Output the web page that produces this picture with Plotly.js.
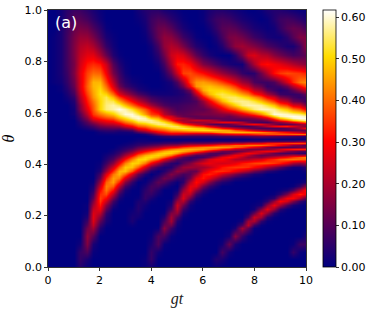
<!DOCTYPE html>
<html><head><meta charset="utf-8">
<script src="https://cdn.plot.ly/plotly-3.0.1.min.js"></script>
<style>html,body{margin:0;padding:0;background:#fff}</style></head>
<body><div id="chart" style="width:374px;height:309px"></div>
<script>
var gt = [0,.25,.5,.75,1,1.25,1.5,1.75,2,2.25,2.5,2.75,3,3.25,3.5,3.75,4,4.25,4.5,4.75,5,5.25,5.5,5.75,6,6.25,6.5,6.75,7,7.25,7.5,7.75,8,8.25,8.5,8.75,9,9.25,9.5,9.75,10];
var theta = [0,.03,.06,.09,.12,.15,.165,.18,.195,.21,.225,.24,.255,.27,.285,.30,.315,.33,.345,.36,.375,.39,.405,.42,.428,.436,.444,.452,.46,.468,.476,.484,.492,.5,.508,.516,.524,.532,.54,.548,.556,.564,.572,.58,.588,.596,.615,.63,.645,.66,.675,.69,.705,.72,.755,.79,.825,.86,.895,.93,.965,1];
var valueTicks = [0,.1,.2,.3,.4,.5,.6];
var valuesPct = [
[0,0,0,0,0,4,1,0,0,0, 0,0,0,0,0,1,2,0,0,0, 0,0,0,0,0,0,1,0,0,0, 0,0,0,0,0,0,0,0,0,0,0],
[0,0,0,0,0,6,3,0,0,0, 0,0,0,0,0,1,6,0,0,0, 0,0,0,0,0,0,4,3,0,0, 0,0,0,0,0,0,0,0,0,0,0],
[0,0,0,0,0,6,9,1,0,0, 0,0,0,0,0,0,6,2,0,0, 0,0,0,0,0,0,0,8,2,0, 0,0,0,0,0,0,0,0,6,1,0],
[0,0,0,0,0,2,15,3,0,0, 0,0,0,0,0,0,3,9,1,0, 0,0,0,0,0,0,0,2,12,3, 0,0,0,0,0,0,0,0,1,7,7],
[0,0,0,0,0,0,17,10,0,0, 0,0,0,0,0,0,1,9,8,1, 0,0,0,0,0,0,0,0,2,16, 6,1,0,0,0,0,0,0,0,0,3],
[0,0,0,0,0,0,13,19,4,0, 0,0,0,0,0,0,0,1,16,7, 1,0,0,0,0,0,0,0,0,3, 19,11,1,0,0,0,0,0,0,0,0],
[0,0,0,0,0,0,10,23,7,1, 0,0,0,1,0,0,0,0,12,13, 2,0,0,0,0,0,0,0,0,1, 9,22,7,1,0,0,0,0,0,0,0],
[0,0,0,0,0,0,7,26,11,3, 0,0,0,3,0,0,0,0,8,19, 4,0,0,0,0,0,0,0,0,0, 2,19,20,6,1,0,0,0,0,0,0],
[0,0,0,0,0,0,4,27,16,4, 0,0,0,3,2,0,0,0,4,19, 9,1,0,0,0,0,0,0,0,0, 0,7,24,19,5,1,0,0,0,0,0],
[0,0,0,0,0,0,2,26,22,6, 0,0,0,2,3,0,0,0,1,15, 17,3,0,0,0,0,0,0,0,0, 0,2,12,26,17,5,1,0,0,0,0],
[0,0,0,0,0,0,1,23,28,11, 1,0,0,1,4,1,0,0,0,8, 22,7,1,0,0,0,0,0,0,0, 0,0,2,15,27,18,5,1,0,0,0],
[0,0,0,0,0,0,1,19,32,16, 4,0,0,0,4,2,0,0,0,4, 24,13,2,0,0,0,0,0,0,0, 0,0,1,3,17,28,19,9,3,1,0],
[0,0,0,0,0,0,0,15,35,24, 8,1,0,0,3,4,1,0,0,2, 18,21,6,1,0,0,0,0,0,0, 0,0,0,1,5,18,30,25,15,6,2],
[0,0,0,0,0,0,0,11,36,30, 14,3,0,0,1,6,3,0,0,0, 12,26,13,3,0,0,0,0,0,0, 0,0,0,0,2,5,19,29,30,21,10],
[0,0,0,0,0,0,0,8,34,37, 22,7,1,0,0,6,6,2,0,0, 6,24,22,8,2,0,0,0,0,0, 0,0,0,0,0,1,5,14,26,33,28],
[0,0,0,0,0,0,0,5,30,41, 31,13,3,0,0,5,8,4,0,0, 2,18,28,17,6,2,0,0,0,0, 0,0,0,0,0,0,1,3,9,21,32],
[0,0,0,0,0,0,0,3,24,42, 39,22,8,2,0,3,8,8,4,1, 0,11,27,27,14,7,3,0,0,0, 0,0,0,0,0,0,0,0,1,6,16],
[0,0,0,0,0,0,0,1,18,39, 45,33,16,6,0,1,5,11,9,4, 1,5,21,31,25,16,8,4,2,0, 0,0,0,0,0,0,0,0,0,1,3],
[0,0,0,0,0,0,0,0,12,33, 45,42,27,14,5,0,2,7,13,11, 6,5,13,27,32,27,19,12,8,4, 2,1,0,0,0,0,0,0,0,0,0],
[0,0,0,0,0,0,0,0,8,26, 41,47,39,25,12,4,0,3,8,15, 12,8,10,18,31,33,30,24,19,14, 9,6,3,2,0,0,0,0,0,0,0],
[0,0,0,0,0,0,0,0,4,18, 34,47,48,38,24,12,4,1,4,10, 17,15,11,12,24,30,34,34,32,28, 23,19,13,9,5,3,1,0,0,0,2],
[0,0,0,0,0,0,0,0,2,12, 25,39,49,48,39,25,13,6,3,4, 11,18,19,18,19,22,27,32,34,35, 35,34,30,26,20,15,10,5,2,2,5],
[0,0,0,0,0,0,0,0,1,7, 16,29,42,50,49,41,29,19,10,5, 4,10,15,21,26,28,26,25,26,28, 32,34,36,37,37,35,32,27,20,17,20],
[0,0,0,0,0,0,0,0,0,4, 9,19,31,42,50,51,45,38,27,17, 9,7,6,10,17,25,29,30,26,21, 20,21,24,26,31,34,38,40,41,40,39],
[0,0,0,0,0,0,0,0,0,3, 7,14,25,36,45,50,50,46,39,29, 18,10,6,6,7,12,21,28,31,28, 22,17,17,16,20,24,28,31,35,39,42],
[0,0,0,0,0,0,0,0,0,2, 5,10,19,28,39,46,49,50,47,41, 31,22,15,9,9,8,10,17,23,29, 28,22,16,12,13,14,15,18,21,20,23],
[0,0,0,0,0,0,0,0,0,1, 3,7,14,21,31,38,43,48,50,49, 44,36,29,22,16,10,9,9,12,18, 25,30,27,22,17,12,9,8,8,6,4],
[0,0,0,0,0,0,0,0,0,0, 2,5,9,15,23,30,35,41,46,49, 49,46,42,38,32,25,19,13,12,11, 14,18,23,27,29,28,23,16,13,10,9],
[0,0,0,0,0,0,0,0,0,0, 1,3,6,10,16,21,25,30,36,41, 44,46,47,46,45,41,37,32,28,21, 18,14,14,14,16,19,25,30,32,33,33],
[0,0,0,0,0,0,0,0,0,0, 0,2,4,6,11,14,17,20,25,29, 31,36,39,41,43,44,45,44,43,39, 36,31,26,22,15,12,10,10,10,12,14],
[0,0,0,0,0,0,0,0,0,0, 0,1,2,4,6,8,10,12,15,17, 18,22,25,26,28,30,33,36,37,40, 40,41,41,40,37,33,28,22,16,14,9],
[0,0,0,0,0,0,0,0,0,0, 0,0,1,2,4,4,5,6,7,8, 8,10,12,12,12,13,15,18,18,21, 21,25,26,27,32,33,34,35,36,36,35],
[0,0,0,0,0,0,0,0,0,0, 0,0,0,1,2,2,2,2,3,3, 3,4,4,4,4,4,5,5,5,6, 6,7,7,7,9,9,9,10,10,13,13],
[0,0,0,0,0,0,0,0,0,0, 0,0,0,0,1,1,0,0,0,0, 0,0,0,0,0,0,0,0,0,0, 0,0,1,1,1,1,1,1,1,1,1],
[0,0,0,0,0,0,0,0,0,0, 0,0,0,0,0,0,1,3,5,6, 6,6,6,6,6,6,7,8,8,9, 9,10,11,12,11,10,9,8,7,6,5],
[0,0,0,0,0,0,0,0,1,1, 1,1,1,1,1,3,7,15,20,24, 24,22,20,19,19,19,21,25,27,29, 30,31,33,35,37,37,38,38,39,40,40],
[0,0,0,0,0,0,0,0,2,3, 3,2,2,3,9,14,20,28,31,35, 35,36,37,37,38,39,43,45,47,47, 47,46,45,43,40,37,33,30,26,22,18],
[0,0,0,0,0,0,1,2,5,6, 6,5,7,9,20,25,32,36,39,44, 45,47,49,50,51,51,49,47,45,39, 35,30,24,20,16,13,11,10,11,12,12],
[0,0,0,0,0,1,3,5,9,10, 11,11,15,20,30,33,39,43,46,51, 53,54,52,50,48,43,38,32,28,22, 17,13,11,9,9,9,9,11,14,20,30],
[0,0,0,0,0,2,5,8,13,15, 16,18,25,30,38,41,46,50,53,55, 54,49,43,38,34,27,21,14,11,9, 8,8,11,16,22,28,31,32,26,20,15],
[0,0,0,0,0,3,8,12,18,21, 22,26,33,38,45,48,52,56,56,52, 45,36,29,23,18,12,9,9,11,15, 21,27,30,27,21,15,10,11,13,17,20],
[0,0,0,0,0,4,10,17,23,26, 28,33,40,45,52,54,57,56,52,44, 33,23,18,17,18,20,24,28,28,26, 21,13,9,8,8,14,17,22,28,35,40],
[0,0,0,0,0,6,13,23,28,31, 33,40,46,51,57,58,57,52,44,33, 22,19,21,24,23,22,18,12,10,9, 9,10,11,12,16,25,35,41,49,54,57],
[0,0,0,0,1,7,16,28,33,36, 39,46,51,57,60,58,50,46,35,28, 24,20,15,12,11,11,11,11,11,12, 13,14,16,21,26,38,48,54,59,61,60],
[0,0,0,0,1,9,19,32,37,41, 44,51,56,60,59,53,42,39,28,25, 16,12,11,11,12,12,13,14,12,15, 19,21,25,31,39,51,58,60,61,60,58],
[0,0,0,0,2,10,22,35,41,45, 49,55,60,60,54,45,36,33,22,16, 12,11,12,13,14,14,15,16,17,21, 26,31,36,43,51,60,60,59,57,55,51],
[0,0,0,0,2,15,27,38,50,56, 58,61,58,52,45,38,30,23,16,11, 8,9,10,11,11,14,20,27,34,38, 46,51,56,59,59,57,52,48,41,37,29],
[0,0,0,0,3,16,30,39,50,56, 58,55,48,40,33,26,19,13,9,7, 7,8,9,10,14,21,29,36,44,50, 56,58,58,57,53,48,39,35,26,24,14],
[0,0,0,1,4,19,32,41,50,55, 54,46,38,30,23,17,11,8,6,5, 5,6,7,9,18,28,38,47,53,56, 57,56,53,48,42,35,26,22,13,11,7],
[0,0,0,2,6,21,34,44,51,54, 47,36,29,21,15,11,7,5,4,4, 4,5,7,14,29,39,48,53,55,55, 52,49,44,38,30,25,15,12,8,6,8],
[0,0,0,3,8,23,36,45,52,50, 40,27,20,14,9,6,3,2,2,2, 3,4,8,22,38,47,52,54,52,50, 45,41,33,28,20,14,7,6,6,7,12],
[0,0,1,4,10,25,38,46,51,44, 32,19,13,8,4,2,1,1,1,2, 3,6,14,32,46,50,50,50,47,43, 36,32,23,19,11,7,4,6,11,18,24],
[0,0,1,5,12,26,39,47,49,40, 26,13,7,4,2,1,0,0,1,2, 6,14,30,44,47,48,46,44,40,35, 27,23,15,12,6,7,8,13,22,30,37],
[0,1,2,6,13,26,38,47,47,36, 22,10,5,2,1,0,0,0,1,3, 9,20,36,44,45,43,40,36,31,26, 19,16,9,7,7,9,16,25,34,41,43],
[0,1,3,7,15,27,36,40,39,29, 14,7,2,0,0,0,0,0,4,12, 24,36,37,34,31,27,22,18,14,11, 6,4,5,13,21,31,35,37,36,35,33],
[0,1,3,8,14,25,32,34,32,24, 10,4,1,0,0,0,0,2,8,20, 32,33,30,23,15,12,8,5,3,2, 2,11,20,29,31,29,27,24,21,18,16],
[0,1,3,8,15,23,27,27,20,12, 4,1,0,0,0,0,1,5,13,24, 27,25,18,11,6,3,1,0,0,5, 14,24,26,22,21,16,13,10,8,9,11],
[0,1,3,8,15,21,23,20,13,6, 2,0,0,0,0,0,2,8,17,21, 19,14,8,4,2,0,1,4,11,17, 19,17,15,12,9,7,5,3,3,8,17],
[0,1,3,8,14,18,18,14,8,3, 1,0,0,0,0,1,5,12,17,16, 12,7,4,1,0,0,3,8,14,15, 13,10,7,5,3,2,2,5,10,15,15],
[0,0,3,7,12,14,13,9,5,1, 0,0,0,0,0,2,7,12,13,10, 6,3,1,0,0,2,6,10,11,10, 7,5,3,2,1,2,6,10,12,11,8],
[0,0,2,6,10,10,8,5,2,0, 0,0,0,0,1,3,7,9,8,5, 3,1,0,0,1,4,7,8,7,5, 3,2,1,0,1,4,7,8,7,5,3],
[0,0,2,5,7,7,5,3,1,0, 0,0,0,0,2,4,5,5,3,2, 1,0,0,0,1,3,4,4,3,2, 1,0,0,1,3,4,4,3,2,1,1]
];
var z = valuesPct.map(function(r){return r.map(function(v){return v/100;});});
var tickFont = {family:'"DejaVu Sans",sans-serif', size:11, color:'#000'};
Plotly.newPlot('chart',[{
  type:'heatmap', x:gt, y:theta, z:z, zsmooth:'best', zmin:0, zmax:0.617,
  colorscale:[[0,'rgb(0,0,128)'],[0.49,'rgb(255,0,0)'],[0.82,'rgb(255,220,0)'],[1,'rgb(255,255,255)']],
  colorbar:{x:1.066, xanchor:'left', xpad:0, ypad:0, y:0.5, yanchor:'middle', len:1, lenmode:'fraction', thickness:13, thicknessmode:'pixels',
    outlinecolor:'#000', outlinewidth:0.8, ticks:'outside', ticklen:3, tickcolor:'#000', tickwidth:0.8,
    tickvals:valueTicks, tickformat:'.2f', tickfont:tickFont}
}],{
  width:374, height:309, margin:{l:48,r:68,t:10,b:42,autoexpand:false}, paper_bgcolor:'#fff', plot_bgcolor:'#fff', showlegend:false,
  xaxis:{range:[0,10], tickvals:[0,2,4,6,8,10], ticks:'outside', ticklen:3, tickwidth:0.8, tickcolor:'#000', showgrid:false, zeroline:false, showline:true, linecolor:'#000', linewidth:0.8, mirror:true, tickfont:tickFont,
    title:{text:'<i>gt</i>', font:{family:'"Liberation Serif",serif', size:16, color:'#222'}, standoff:6}},
  yaxis:{range:[0,1], tickvals:[0,.2,.4,.6,.8,1], tickformat:'.1f', ticks:'outside', ticklen:3, tickwidth:0.8, tickcolor:'#000', showgrid:false, zeroline:false, showline:true, linecolor:'#000', linewidth:0.8, mirror:true, tickfont:tickFont,
    title:{text:'<i>θ</i>', font:{family:'"Liberation Serif",serif', size:16, color:'#000'}, standoff:6}},
  annotations:[{text:'(a)', xref:'paper', yref:'paper', x:0.018, y:0.952, xanchor:'left', yanchor:'middle', showarrow:false, font:{family:'"DejaVu Sans",sans-serif', size:16, color:'#fff'}}]
},{displayModeBar:false, staticPlot:true});
</script></body></html>
